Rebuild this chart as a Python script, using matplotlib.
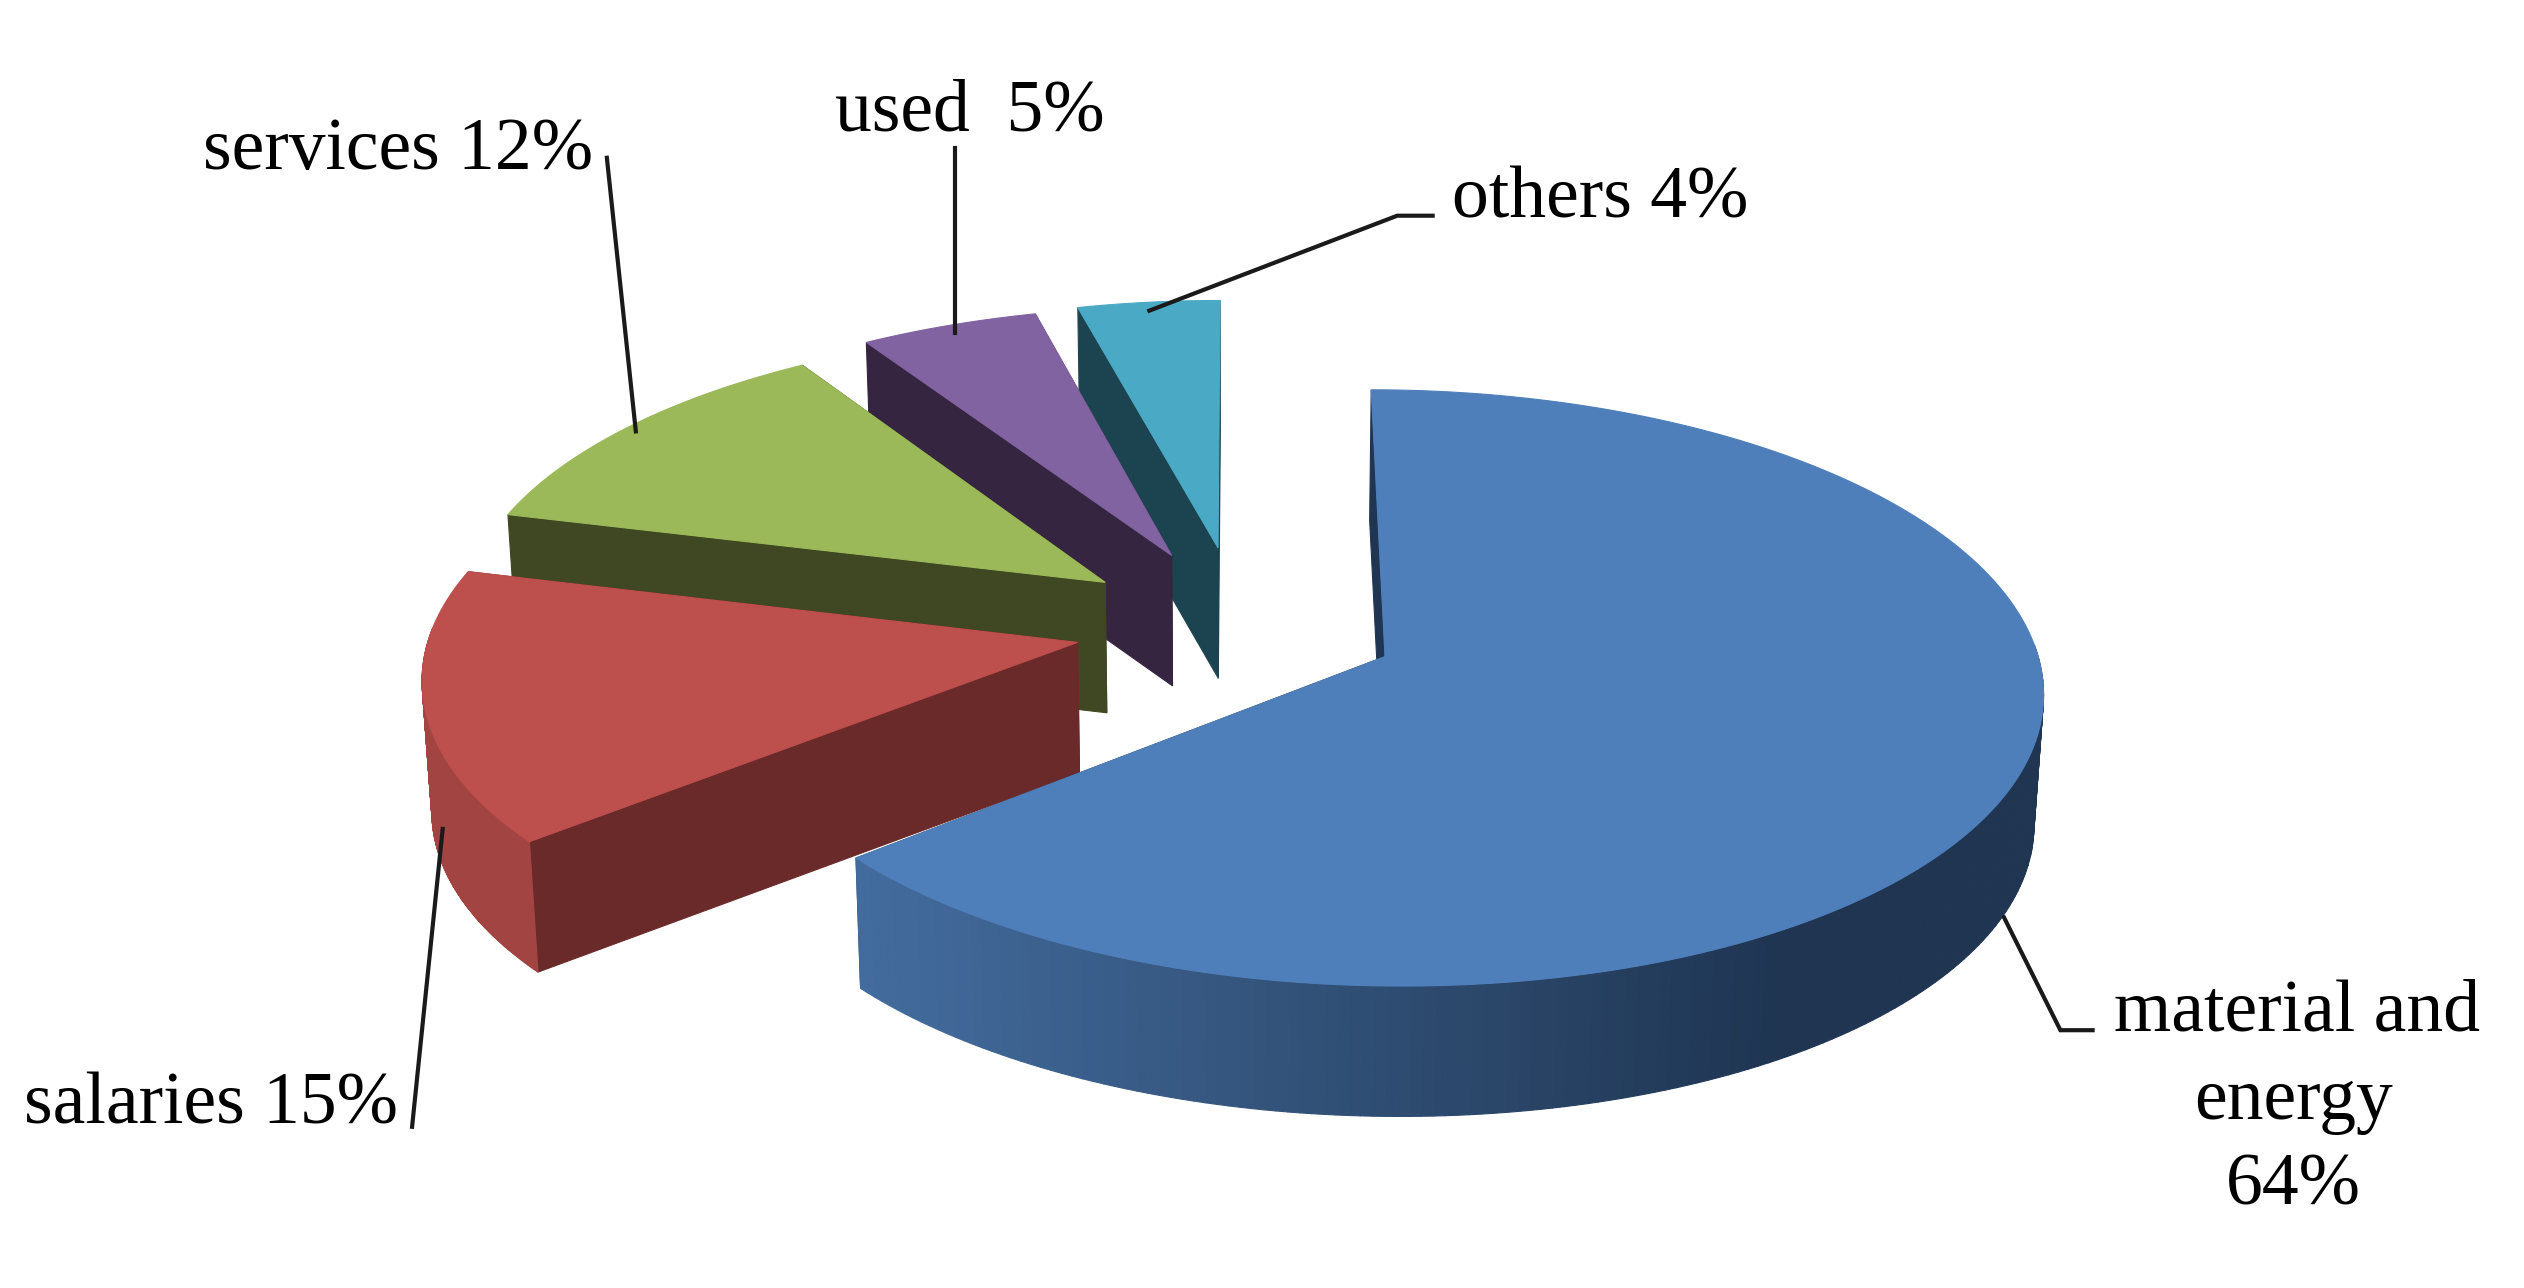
import numpy as np
import matplotlib
matplotlib.use("Agg")
import matplotlib.pyplot as plt
from matplotlib.collections import PolyCollection
from matplotlib.colors import to_rgb

# data
categories = ["material and\nenergy\n64%", "salaries 15%", "services 12%", "used  5%", "others 4%"]
values = [64, 15, 12, 5, 4]

# look of the slices
explode = [0.245, 0.2565, 0.2625, 0.274, 0.2815]
top_colors = ["#4f7fba", "#bd4f4c", "#9bb958", "#8063a0", "#4aa9c4"]
cut_colors = ["#1f3552", "#6b2a2a", "#3f4822", "#352541", "#1c4450"]
rim_colors = ["#1f3552", "#a24441", "#3f4822", "#352541", "#1c4450"]

# camera, worked out in picture units of 1568 wide
SCALE = 2524 / 1568
CAM_A, CAM_C, CAM_D, CAM_F, CAM_G = 401.35, 770.46, -179.2, 389.0, 0.104
DEPTH = 81
INSET = 0.012


def project(X, Y, low=False):
    w = CAM_G * Y + 1
    u = CAM_C + CAM_A * X / w
    v = CAM_F + CAM_D * Y / w
    if low:
        # bottom face of the pie sits a bit further from the camera
        u = CAM_C + (u - CAM_C) * (1 - INSET)
        v = v + DEPTH
    return u * SCALE, v * SCALE


def blue_shade(x):
    stops = np.array([535, 860, 1110, 1270]) * SCALE
    cols = np.array([to_rgb(c) for c in ["#436c9e", "#2f4d72", "#1f3552", "#1f3552"]])
    return [np.interp(x, stops, cols[:, k]) for k in range(3)]


fig = plt.figure(figsize=(25.24, 12.88), dpi=100)
ax = fig.add_axes([0, 0, 1, 1])
ax.set_xlim(0, 2524)
ax.set_ylim(1288, 0)
ax.axis("off")

edges = np.cumsum([0] + values) / sum(values) * 360

# back slices first, the blue one last
for i in [4, 3, 2, 1, 0]:
    start, end = edges[i], edges[i + 1]
    mid = np.radians((start + end) / 2)
    ox, oy = explode[i] * np.sin(mid), explode[i] * np.cos(mid)
    t = np.radians(np.linspace(start, end, 240))
    X = ox + np.sin(t)
    Y = oy + np.cos(t)
    ux, uy = project(X, Y)
    lx, ly = project(X, Y, low=True)
    ax0, ay0 = project(ox, oy)
    bx0, by0 = project(ox, oy, low=True)

    # straight cut walls
    for k in [0, -1]:
        ax.fill([ax0, ux[k], lx[k], bx0], [ay0, uy[k], ly[k], by0],
                color=cut_colors[i], lw=0.8, zorder=i * -3 + 20)

    # curved outer wall, only the part that faces the viewer
    verts, cols = [], []
    for k in range(len(t) - 1):
        if np.cos(t[k]) > 0.05:
            continue
        verts.append([(ux[k], uy[k]), (ux[k + 1], uy[k + 1]), (lx[k + 1], ly[k + 1]), (lx[k], ly[k])])
        cols.append(blue_shade(ux[k]) if i == 0 else rim_colors[i])
    if verts:
        ax.add_collection(PolyCollection(verts, facecolors=cols, edgecolors=cols, linewidths=0.8,
                                         zorder=i * -3 + 21))

    ax.fill(np.r_[ax0, ux], np.r_[ay0, uy], color=top_colors[i], lw=0.8, zorder=i * -3 + 22)

# leader lines
leaders = [
    ([1245, 1280, 1300], [570, 640, 640]),
    ([256, 275], [700, 515]),
    ([377, 395], [98, 268]),
    ([593, 593], [92, 207]),
    ([890, 868, 714], [134, 134, 193]),
]
for xs, ys in leaders:
    ax.plot(np.array(xs) * SCALE, np.array(ys) * SCALE, color="#1a1a1a", lw=3, zorder=30,
            solid_joinstyle="miter")

# labels
font = dict(family=["Liberation Serif", "DejaVu Serif"], fontsize=53, color="black", zorder=31)
ax.text(1427 * SCALE, 640 * SCALE, "material and", ha="center", va="baseline", **font)
ax.text(1425 * SCALE, 695 * SCALE, "energy", ha="center", va="baseline", **font)
ax.text(1425 * SCALE, 748 * SCALE, "64%", ha="center", va="baseline", **font)
ax.text(15 * SCALE, 698 * SCALE, categories[1], ha="left", va="baseline", **font)
ax.text(126 * SCALE, 105 * SCALE, categories[2], ha="left", va="baseline", **font)
ax.text(519 * SCALE, 81 * SCALE, categories[3], ha="left", va="baseline", **font)
ax.text(902 * SCALE, 135 * SCALE, categories[4], ha="left", va="baseline", **font)

fig.savefig("out.png", dpi=100)
